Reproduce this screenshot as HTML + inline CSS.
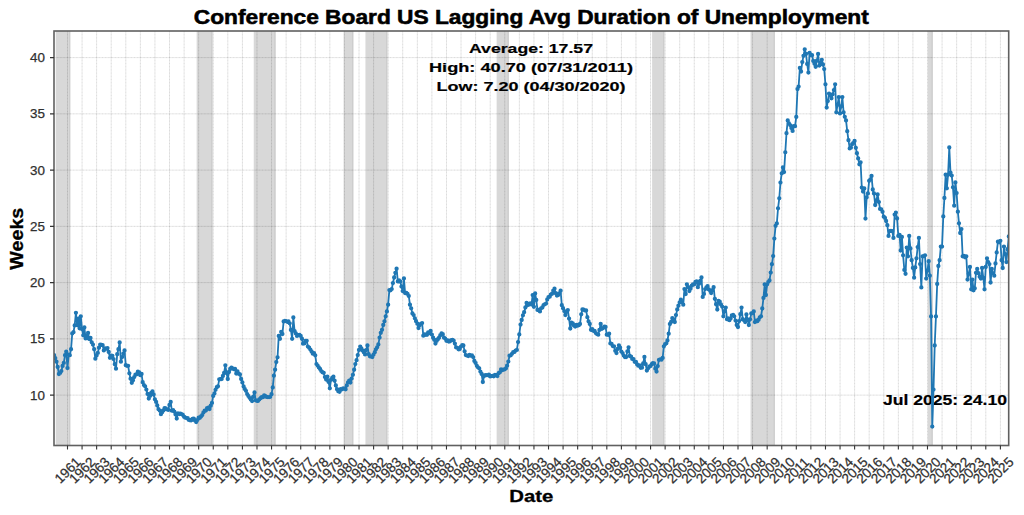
<!DOCTYPE html><html><head><meta charset="utf-8"><style>html,body{margin:0;padding:0;background:#fff;overflow:hidden}svg{display:block;opacity:0.999}text{font-family:"Liberation Sans",sans-serif}</style></head><body>
<svg width="1024" height="515" viewBox="0 0 1024 515">
<rect width="1024" height="515" fill="#fff"/>
<defs><clipPath id="ax"><rect x="54.0" y="31.0" width="954.7" height="414.5"/></clipPath></defs>
<g clip-path="url(#ax)">
<rect x="55.73" y="31.0" width="14.53" height="414.5" fill="#d8d8d8"/>
<rect x="68.95" y="31.0" width="1.3" height="414.5" fill="#cdcdcd"/>
<rect x="196.64" y="31.0" width="15.77" height="414.5" fill="#d8d8d8"/>
<rect x="211.11" y="31.0" width="1.3" height="414.5" fill="#cdcdcd"/>
<rect x="253.75" y="31.0" width="21.79" height="414.5" fill="#d8d8d8"/>
<rect x="274.24" y="31.0" width="1.3" height="414.5" fill="#cdcdcd"/>
<rect x="343.62" y="31.0" width="9.70" height="414.5" fill="#d8d8d8"/>
<rect x="352.03" y="31.0" width="1.3" height="414.5" fill="#cdcdcd"/>
<rect x="365.45" y="31.0" width="21.87" height="414.5" fill="#d8d8d8"/>
<rect x="386.03" y="31.0" width="1.3" height="414.5" fill="#cdcdcd"/>
<rect x="496.63" y="31.0" width="12.13" height="414.5" fill="#d8d8d8"/>
<rect x="507.47" y="31.0" width="1.3" height="414.5" fill="#cdcdcd"/>
<rect x="652.12" y="31.0" width="12.17" height="414.5" fill="#d8d8d8"/>
<rect x="662.99" y="31.0" width="1.3" height="414.5" fill="#cdcdcd"/>
<rect x="750.53" y="31.0" width="24.27" height="414.5" fill="#d8d8d8"/>
<rect x="773.50" y="31.0" width="1.3" height="414.5" fill="#cdcdcd"/>
<rect x="927.92" y="31.0" width="4.79" height="414.5" fill="#d8d8d8"/>
<rect x="931.42" y="31.0" width="1.3" height="414.5" fill="#cdcdcd"/>
<path d="M67.50 31.0V445.5M82.07 31.0V445.5M96.63 31.0V445.5M111.20 31.0V445.5M125.81 31.0V445.5M140.37 31.0V445.5M154.94 31.0V445.5M169.51 31.0V445.5M184.11 31.0V445.5M198.68 31.0V445.5M213.25 31.0V445.5M227.81 31.0V445.5M242.42 31.0V445.5M256.99 31.0V445.5M271.55 31.0V445.5M286.12 31.0V445.5M300.73 31.0V445.5M315.29 31.0V445.5M329.86 31.0V445.5M344.42 31.0V445.5M359.03 31.0V445.5M373.60 31.0V445.5M388.16 31.0V445.5M402.73 31.0V445.5M417.34 31.0V445.5M431.90 31.0V445.5M446.47 31.0V445.5M461.04 31.0V445.5M475.64 31.0V445.5M490.21 31.0V445.5M504.78 31.0V445.5M519.34 31.0V445.5M533.95 31.0V445.5M548.52 31.0V445.5M563.08 31.0V445.5M577.65 31.0V445.5M592.26 31.0V445.5M606.82 31.0V445.5M621.39 31.0V445.5M635.96 31.0V445.5M650.56 31.0V445.5M665.13 31.0V445.5M679.70 31.0V445.5M694.26 31.0V445.5M708.87 31.0V445.5M723.44 31.0V445.5M738.00 31.0V445.5M752.57 31.0V445.5M767.17 31.0V445.5M781.74 31.0V445.5M796.31 31.0V445.5M810.87 31.0V445.5M825.48 31.0V445.5M840.05 31.0V445.5M854.61 31.0V445.5M869.18 31.0V445.5M883.79 31.0V445.5M898.35 31.0V445.5M912.92 31.0V445.5M927.49 31.0V445.5M942.09 31.0V445.5M956.66 31.0V445.5M971.23 31.0V445.5M985.79 31.0V445.5M1000.40 31.0V445.5M54.0 395.10H1008.7M54.0 338.85H1008.7M54.0 282.60H1008.7M54.0 226.35H1008.7M54.0 170.10H1008.7M54.0 113.85H1008.7M54.0 57.60H1008.7" stroke="#000" stroke-opacity="0.085" stroke-width="1" fill="none"/>
<path d="M67.50 31.0V445.5M82.07 31.0V445.5M96.63 31.0V445.5M111.20 31.0V445.5M125.81 31.0V445.5M140.37 31.0V445.5M154.94 31.0V445.5M169.51 31.0V445.5M184.11 31.0V445.5M198.68 31.0V445.5M213.25 31.0V445.5M227.81 31.0V445.5M242.42 31.0V445.5M256.99 31.0V445.5M271.55 31.0V445.5M286.12 31.0V445.5M300.73 31.0V445.5M315.29 31.0V445.5M329.86 31.0V445.5M344.42 31.0V445.5M359.03 31.0V445.5M373.60 31.0V445.5M388.16 31.0V445.5M402.73 31.0V445.5M417.34 31.0V445.5M431.90 31.0V445.5M446.47 31.0V445.5M461.04 31.0V445.5M475.64 31.0V445.5M490.21 31.0V445.5M504.78 31.0V445.5M519.34 31.0V445.5M533.95 31.0V445.5M548.52 31.0V445.5M563.08 31.0V445.5M577.65 31.0V445.5M592.26 31.0V445.5M606.82 31.0V445.5M621.39 31.0V445.5M635.96 31.0V445.5M650.56 31.0V445.5M665.13 31.0V445.5M679.70 31.0V445.5M694.26 31.0V445.5M708.87 31.0V445.5M723.44 31.0V445.5M738.00 31.0V445.5M752.57 31.0V445.5M767.17 31.0V445.5M781.74 31.0V445.5M796.31 31.0V445.5M810.87 31.0V445.5M825.48 31.0V445.5M840.05 31.0V445.5M854.61 31.0V445.5M869.18 31.0V445.5M883.79 31.0V445.5M898.35 31.0V445.5M912.92 31.0V445.5M927.49 31.0V445.5M942.09 31.0V445.5M956.66 31.0V445.5M971.23 31.0V445.5M985.79 31.0V445.5M1000.40 31.0V445.5M54.0 395.10H1008.7M54.0 338.85H1008.7M54.0 282.60H1008.7M54.0 226.35H1008.7M54.0 170.10H1008.7M54.0 113.85H1008.7M54.0 57.60H1008.7" stroke="#000" stroke-opacity="0.1" stroke-width="0.7" stroke-dasharray="1,2.2" fill="none"/>
</g>
<text x="531.30" y="23.80" font-size="20.00" font-weight="bold" text-anchor="middle" fill="#000" textLength="675.0" lengthAdjust="spacingAndGlyphs" stroke="#000" stroke-width="0.55">Conference Board US Lagging Avg Duration of Unemployment</text>
<text x="531.00" y="53.30" font-size="13.70" font-weight="bold" text-anchor="middle" fill="#000" textLength="124.0" lengthAdjust="spacingAndGlyphs" stroke="#000" stroke-width="0.20">Average: 17.57</text>
<text x="531.00" y="72.00" font-size="13.70" font-weight="bold" text-anchor="middle" fill="#000" textLength="204.0" lengthAdjust="spacingAndGlyphs" stroke="#000" stroke-width="0.20">High: 40.70 (07/31/2011)</text>
<text x="531.00" y="91.00" font-size="13.70" font-weight="bold" text-anchor="middle" fill="#000" textLength="189.0" lengthAdjust="spacingAndGlyphs" stroke="#000" stroke-width="0.20">Low: 7.20 (04/30/2020)</text>
<text x="1007.00" y="404.90" font-size="14.20" font-weight="bold" text-anchor="end" fill="#000" textLength="124.0" lengthAdjust="spacingAndGlyphs" stroke="#000" stroke-width="0.20">Jul 2025: 24.10</text>
<g clip-path="url(#ax)">
<path d="M54.09 355.20 L55.25 358.03 L56.49 361.70 L57.68 367.01 L58.92 374.00 L60.12 372.91 L61.35 371.10 L62.59 365.97 L63.79 362.90 L65.03 355.20 L66.22 351.70 L67.46 368.10 L68.70 354.60 L69.81 355.20 L71.05 349.20 L72.25 333.40 L73.49 332.20 L74.68 325.40 L75.92 312.80 L77.16 325.20 L78.36 318.60 L79.59 328.30 L80.79 316.30 L82.03 329.10 L83.26 335.30 L84.38 327.50 L85.62 338.40 L86.82 335.79 L88.05 333.00 L89.25 339.00 L90.49 338.00 L91.72 342.30 L92.92 344.60 L94.16 349.20 L95.36 358.70 L96.59 355.48 L97.83 352.90 L98.95 347.69 L100.19 344.60 L101.38 344.92 L102.62 345.20 L103.82 350.40 L105.05 348.52 L106.29 348.71 L107.49 348.10 L108.73 352.00 L109.92 357.80 L111.16 355.77 L112.40 355.80 L113.55 359.12 L114.79 364.22 L115.99 368.70 L117.23 354.20 L118.42 349.13 L119.66 342.50 L120.90 361.70 L122.09 357.06 L123.33 353.57 L124.53 350.50 L125.77 365.20 L127.00 365.81 L128.12 365.80 L129.36 373.32 L130.56 378.70 L131.79 382.80 L132.99 380.25 L134.23 377.09 L135.46 374.60 L136.66 374.24 L137.90 371.60 L139.10 372.31 L140.33 375.20 L141.57 374.00 L142.69 382.20 L143.92 385.11 L145.12 386.30 L146.36 389.60 L147.56 393.90 L148.79 398.60 L150.03 395.90 L151.23 392.85 L152.47 391.50 L153.66 394.48 L154.90 399.30 L156.14 401.94 L157.25 405.50 L158.49 409.16 L159.69 410.53 L160.93 414.20 L162.12 412.36 L163.36 410.47 L164.60 408.10 L165.79 408.39 L167.03 409.41 L168.23 409.90 L169.47 404.90 L170.70 402.00 L171.86 410.70 L173.10 410.09 L174.30 411.60 L175.53 414.39 L176.73 418.60 L177.97 413.40 L179.20 414.10 L180.40 413.76 L181.64 414.20 L182.84 414.92 L184.07 416.74 L185.31 417.70 L186.43 418.11 L187.66 418.26 L188.86 419.97 L190.10 420.26 L191.30 420.30 L192.53 418.84 L193.77 418.60 L194.97 420.53 L196.20 422.10 L197.40 419.96 L198.64 417.70 L199.88 417.73 L200.99 416.52 L202.23 415.10 L203.43 412.39 L204.67 410.70 L205.86 410.55 L207.10 408.10 L208.34 407.63 L209.53 409.00 L210.77 405.75 L211.97 402.90 L213.21 395.90 L214.44 393.47 L215.56 389.80 L216.80 387.21 L217.99 386.30 L219.23 379.30 L220.43 379.12 L221.67 379.00 L222.90 376.00 L224.10 373.00 L225.34 365.30 L226.54 373.00 L227.77 379.00 L229.01 372.00 L230.17 369.00 L231.40 367.64 L232.60 368.50 L233.84 369.15 L235.04 369.00 L236.27 373.50 L237.51 371.50 L238.71 373.63 L239.94 374.50 L241.14 379.00 L242.38 382.48 L243.62 386.50 L244.73 388.90 L245.97 390.79 L247.17 394.04 L248.41 395.90 L249.60 397.86 L250.84 399.56 L252.08 401.10 L253.27 396.64 L254.51 392.40 L255.71 400.30 L256.95 400.82 L258.18 400.77 L259.30 399.40 L260.54 398.19 L261.73 397.10 L262.97 397.16 L264.17 395.38 L265.41 396.10 L266.64 396.92 L267.84 397.12 L269.08 397.10 L270.27 396.83 L271.51 394.20 L272.75 387.40 L273.87 375.70 L275.10 369.67 L276.30 362.10 L277.54 357.30 L278.74 335.90 L279.97 338.80 L281.21 332.00 L282.41 334.00 L283.64 321.40 L284.84 320.88 L286.08 321.13 L287.32 321.80 L288.47 321.40 L289.71 323.30 L290.91 329.90 L292.14 338.80 L293.34 317.50 L294.58 331.10 L295.82 333.41 L297.01 335.90 L298.25 335.10 L299.45 334.98 L300.69 335.90 L301.92 338.74 L303.04 343.70 L304.28 343.38 L305.47 340.88 L306.71 340.80 L307.91 346.60 L309.15 347.63 L310.38 349.60 L311.58 351.50 L312.82 353.66 L314.01 353.03 L315.25 355.30 L316.49 364.10 L317.61 365.58 L318.84 367.42 L320.04 368.90 L321.28 371.12 L322.48 372.27 L323.71 372.80 L324.95 377.07 L326.15 379.60 L327.38 376.70 L328.58 381.97 L329.82 388.30 L331.06 379.60 L332.17 377.95 L333.41 376.70 L334.61 380.71 L335.84 385.40 L337.04 389.27 L338.28 391.30 L339.52 391.73 L340.71 389.13 L341.95 389.30 L343.15 388.52 L344.38 388.66 L345.62 389.30 L346.78 385.40 L348.02 382.36 L349.21 380.60 L350.45 382.50 L351.65 378.61 L352.89 374.80 L354.12 369.66 L355.32 364.10 L356.56 360.20 L357.75 355.10 L358.99 349.94 L360.23 346.60 L361.35 348.36 L362.58 350.50 L363.78 352.14 L365.02 354.40 L366.21 350.06 L367.45 345.40 L368.69 354.20 L369.89 356.25 L371.12 356.59 L372.32 357.10 L373.56 354.54 L374.80 352.18 L375.91 349.30 L377.15 347.32 L378.35 344.50 L379.58 337.58 L380.78 332.80 L382.02 329.86 L383.26 325.00 L384.45 321.32 L385.69 316.30 L386.89 311.40 L388.12 304.70 L389.36 290.10 L390.48 290.31 L391.72 289.10 L392.91 283.04 L394.15 277.50 L395.35 272.86 L396.59 268.70 L397.82 281.40 L399.02 280.45 L400.26 281.40 L401.45 286.57 L402.69 291.10 L403.93 278.40 L405.09 293.00 L406.32 292.92 L407.52 293.89 L408.76 295.90 L409.95 304.70 L411.19 308.35 L412.43 313.40 L413.63 315.04 L414.86 318.30 L416.06 321.15 L417.30 323.69 L418.53 328.00 L419.65 325.17 L420.89 323.90 L422.09 323.10 L423.32 335.70 L424.52 334.44 L425.76 334.77 L427.00 334.80 L428.19 332.36 L429.43 333.10 L430.63 330.90 L431.86 334.57 L433.10 337.70 L434.22 339.76 L435.46 343.50 L436.65 340.97 L437.89 339.27 L439.09 337.70 L440.32 335.22 L441.56 333.40 L442.76 334.23 L444.00 337.70 L445.19 338.60 L446.43 340.78 L447.67 340.52 L448.79 341.60 L450.02 341.31 L451.22 340.11 L452.46 339.90 L453.65 340.60 L454.89 343.62 L456.13 347.40 L457.33 347.79 L458.56 349.30 L459.76 349.11 L461.00 346.54 L462.23 345.23 L463.39 345.40 L464.63 351.33 L465.83 355.10 L467.06 355.62 L468.26 356.00 L469.50 354.95 L470.74 355.70 L471.93 355.40 L473.17 357.06 L474.37 361.00 L475.60 362.89 L476.84 365.80 L477.96 367.35 L479.20 368.30 L480.39 371.62 L481.63 374.00 L482.83 382.00 L484.06 376.10 L485.30 375.19 L486.50 375.11 L487.74 375.10 L488.93 374.63 L490.17 376.42 L491.41 376.10 L492.53 375.93 L493.76 376.27 L494.96 374.94 L496.20 375.10 L497.39 376.10 L498.63 373.17 L499.87 372.31 L501.07 369.30 L502.30 370.21 L503.50 369.65 L504.74 369.28 L505.97 368.30 L507.09 365.71 L508.33 361.60 L509.53 355.70 L510.76 355.33 L511.96 353.80 L513.20 352.17 L514.43 351.89 L515.63 350.53 L516.87 349.90 L518.07 342.10 L519.30 334.40 L520.54 324.60 L521.70 320.00 L522.94 315.30 L524.13 312.20 L525.37 307.50 L526.57 302.90 L527.80 305.00 L529.04 304.60 L530.24 303.50 L531.48 304.40 L532.67 295.10 L533.91 306.80 L535.15 293.50 L536.26 300.00 L537.50 309.90 L538.70 310.00 L539.94 311.40 L541.13 308.32 L542.37 307.50 L543.61 305.07 L544.81 304.37 L546.04 303.60 L547.24 299.40 L548.48 297.22 L549.71 296.66 L550.83 294.60 L552.07 293.73 L553.27 290.54 L554.50 288.70 L555.70 293.15 L556.94 295.50 L558.17 295.07 L559.37 293.39 L560.61 290.70 L561.81 305.20 L563.04 308.14 L564.28 311.06 L565.40 315.00 L566.64 311.89 L567.83 310.10 L569.07 318.57 L570.27 328.50 L571.50 322.70 L572.74 323.29 L573.94 325.60 L575.18 326.60 L576.37 325.00 L577.61 325.63 L578.85 325.15 L580.00 324.00 L581.24 314.30 L582.44 309.40 L583.68 309.68 L584.87 310.43 L586.11 310.40 L587.35 317.20 L588.54 321.32 L589.78 324.00 L590.98 329.80 L592.22 329.14 L593.45 330.85 L594.57 330.80 L595.81 333.08 L597.01 334.08 L598.24 334.70 L599.44 329.95 L600.68 324.00 L601.91 328.80 L603.11 328.11 L604.35 326.76 L605.55 326.90 L606.78 334.70 L608.02 334.89 L609.14 333.70 L610.37 343.40 L611.57 343.96 L612.81 346.06 L614.01 346.30 L615.24 350.83 L616.48 353.10 L617.68 348.95 L618.92 345.30 L620.11 347.66 L621.35 351.57 L622.59 353.10 L623.70 355.59 L624.94 357.00 L626.14 357.00 L627.38 351.36 L628.57 347.30 L629.81 356.00 L631.05 356.55 L632.24 358.90 L633.48 359.03 L634.68 361.80 L635.92 361.80 L637.15 364.49 L638.31 365.70 L639.55 365.52 L640.75 367.82 L641.98 367.70 L643.18 363.50 L644.42 357.00 L645.65 364.18 L646.85 370.60 L648.09 368.29 L649.29 366.70 L650.52 365.99 L651.76 364.16 L652.88 363.06 L654.11 363.40 L655.31 368.63 L656.55 371.60 L657.75 366.11 L658.98 359.90 L660.22 359.33 L661.42 359.67 L662.65 358.00 L663.85 346.30 L665.09 344.21 L666.33 343.33 L667.44 340.50 L668.68 333.70 L669.88 324.00 L671.12 321.88 L672.31 318.20 L673.55 319.41 L674.79 322.00 L675.98 315.10 L677.22 309.40 L678.42 305.67 L679.66 302.31 L680.89 299.70 L682.01 302.41 L683.25 304.70 L684.44 289.10 L685.68 294.00 L686.88 284.30 L688.12 287.12 L689.35 291.10 L690.55 288.64 L691.79 285.68 L692.99 284.30 L694.22 284.32 L695.46 282.02 L696.62 281.40 L697.85 287.20 L699.05 283.87 L700.29 280.93 L701.49 277.50 L702.72 296.90 L703.96 293.97 L705.16 289.10 L706.39 287.46 L707.59 286.20 L708.83 289.47 L710.07 290.74 L711.18 293.00 L712.42 290.18 L713.62 287.20 L714.86 298.80 L716.05 304.21 L717.29 309.50 L718.53 300.80 L719.72 301.58 L720.96 304.52 L722.16 306.60 L723.40 316.30 L724.63 311.19 L725.75 307.60 L726.99 319.20 L728.18 318.51 L729.42 320.20 L730.62 318.47 L731.86 315.30 L733.09 315.01 L734.29 316.30 L735.53 320.59 L736.72 325.00 L737.96 327.00 L739.20 321.07 L740.32 314.20 L741.55 307.60 L742.75 319.20 L743.99 320.23 L745.19 322.10 L746.42 314.40 L747.66 319.74 L748.86 325.00 L750.09 319.33 L751.29 313.40 L752.53 313.13 L753.77 311.50 L754.92 322.10 L756.16 320.70 L757.36 321.20 L758.59 319.71 L759.79 317.33 L761.03 316.30 L762.27 308.50 L763.46 297.90 L764.70 284.30 L765.90 295.00 L767.14 284.30 L768.37 281.81 L769.49 280.40 L770.73 272.60 L771.92 264.20 L773.16 256.10 L774.36 238.60 L775.60 225.80 L776.83 223.40 L778.03 208.30 L779.27 198.30 L780.46 182.60 L781.70 173.30 L782.94 167.50 L784.06 172.10 L785.29 152.30 L786.49 133.20 L787.73 120.40 L788.93 123.40 L790.16 125.10 L791.40 128.02 L792.60 130.90 L793.83 126.20 L795.03 126.20 L796.27 116.90 L797.51 89.00 L798.62 86.60 L799.86 68.00 L801.06 71.50 L802.29 62.10 L803.49 55.85 L804.73 49.30 L805.97 54.00 L807.16 63.92 L808.40 72.60 L809.60 52.80 L810.83 54.99 L812.07 55.20 L813.23 61.00 L814.47 63.76 L815.66 66.80 L816.90 60.67 L818.10 54.00 L819.34 65.60 L820.57 62.71 L821.77 59.80 L823.01 64.48 L824.20 69.10 L825.44 84.30 L826.68 107.60 L827.80 101.06 L829.03 93.60 L830.23 95.84 L831.47 98.30 L832.66 94.28 L833.90 90.10 L835.14 84.30 L836.34 112.30 L837.57 104.65 L838.77 97.10 L840.01 113.40 L841.25 106.31 L842.36 97.10 L843.60 112.30 L844.80 116.83 L846.03 120.40 L847.23 131.20 L848.47 140.20 L849.71 148.40 L850.90 147.63 L852.14 144.16 L853.34 142.90 L854.57 141.00 L855.81 147.80 L856.93 153.24 L858.17 158.40 L859.36 164.30 L860.60 162.30 L861.80 187.60 L863.04 191.50 L864.27 188.50 L865.47 218.60 L866.71 197.30 L867.90 193.40 L869.14 180.80 L870.38 179.41 L871.54 175.90 L872.77 189.50 L873.97 193.40 L875.21 205.00 L876.40 200.52 L877.64 194.40 L878.88 202.10 L880.08 208.90 L881.31 209.48 L882.51 211.80 L883.75 216.70 L884.98 217.94 L886.10 221.00 L887.34 225.20 L888.54 235.90 L889.77 231.10 L890.97 230.96 L892.21 231.10 L893.45 237.90 L894.64 214.60 L895.88 212.60 L897.08 218.40 L898.31 235.90 L899.55 235.00 L900.67 250.50 L901.91 236.90 L903.10 255.30 L904.34 269.90 L905.54 273.80 L906.77 247.60 L908.01 256.30 L909.21 235.90 L910.45 248.50 L911.64 260.20 L912.88 267.92 L914.12 277.70 L915.24 267.38 L916.47 258.30 L917.67 247.08 L918.91 237.90 L920.10 264.10 L921.34 287.40 L922.58 256.30 L923.78 256.21 L925.01 255.30 L926.21 278.60 L927.45 270.58 L928.68 261.20 L929.84 275.70 L931.08 316.40 L932.28 426.60 L933.51 389.60 L934.71 345.50 L935.95 316.40 L937.19 284.00 L938.38 266.00 L939.62 260.20 L940.82 246.60 L942.05 246.60 L943.29 216.40 L944.41 198.00 L945.65 174.70 L946.84 188.30 L948.08 174.70 L949.28 147.50 L950.51 172.70 L951.75 175.60 L952.95 187.30 L954.19 205.70 L955.38 182.40 L956.62 193.10 L957.86 211.70 L958.98 223.30 L960.21 233.00 L961.41 229.10 L962.65 256.30 L963.84 255.97 L965.08 257.30 L966.32 256.30 L967.52 279.60 L968.75 273.82 L969.95 267.00 L971.19 289.30 L972.42 279.60 L973.54 290.30 L974.78 288.30 L975.98 272.80 L977.21 268.90 L978.41 273.18 L979.65 276.70 L980.88 278.60 L982.08 268.00 L983.32 277.79 L984.52 289.30 L985.75 267.00 L986.99 258.30 L988.15 262.12 L989.39 264.10 L990.58 282.50 L991.82 268.90 L993.02 273.42 L994.25 275.70 L995.49 263.38 L996.69 252.40 L997.93 241.70 L999.12 242.34 L1000.36 240.80 L1001.60 260.20 L1002.71 268.00 L1003.95 246.60 L1005.15 254.11 L1006.39 262.10 L1007.58 249.27 L1008.82 236.50" stroke="#1f77b4" stroke-width="1.8" fill="none" stroke-linejoin="round"/>
<path d="M54.09 355.20h0M55.25 358.03h0M56.49 361.70h0M57.68 367.01h0M58.92 374.00h0M60.12 372.91h0M61.35 371.10h0M62.59 365.97h0M63.79 362.90h0M65.03 355.20h0M66.22 351.70h0M67.46 368.10h0M68.70 354.60h0M69.81 355.20h0M71.05 349.20h0M72.25 333.40h0M73.49 332.20h0M74.68 325.40h0M75.92 312.80h0M77.16 325.20h0M78.36 318.60h0M79.59 328.30h0M80.79 316.30h0M82.03 329.10h0M83.26 335.30h0M84.38 327.50h0M85.62 338.40h0M86.82 335.79h0M88.05 333.00h0M89.25 339.00h0M90.49 338.00h0M91.72 342.30h0M92.92 344.60h0M94.16 349.20h0M95.36 358.70h0M96.59 355.48h0M97.83 352.90h0M98.95 347.69h0M100.19 344.60h0M101.38 344.92h0M102.62 345.20h0M103.82 350.40h0M105.05 348.52h0M106.29 348.71h0M107.49 348.10h0M108.73 352.00h0M109.92 357.80h0M111.16 355.77h0M112.40 355.80h0M113.55 359.12h0M114.79 364.22h0M115.99 368.70h0M117.23 354.20h0M118.42 349.13h0M119.66 342.50h0M120.90 361.70h0M122.09 357.06h0M123.33 353.57h0M124.53 350.50h0M125.77 365.20h0M127.00 365.81h0M128.12 365.80h0M129.36 373.32h0M130.56 378.70h0M131.79 382.80h0M132.99 380.25h0M134.23 377.09h0M135.46 374.60h0M136.66 374.24h0M137.90 371.60h0M139.10 372.31h0M140.33 375.20h0M141.57 374.00h0M142.69 382.20h0M143.92 385.11h0M145.12 386.30h0M146.36 389.60h0M147.56 393.90h0M148.79 398.60h0M150.03 395.90h0M151.23 392.85h0M152.47 391.50h0M153.66 394.48h0M154.90 399.30h0M156.14 401.94h0M157.25 405.50h0M158.49 409.16h0M159.69 410.53h0M160.93 414.20h0M162.12 412.36h0M163.36 410.47h0M164.60 408.10h0M165.79 408.39h0M167.03 409.41h0M168.23 409.90h0M169.47 404.90h0M170.70 402.00h0M171.86 410.70h0M173.10 410.09h0M174.30 411.60h0M175.53 414.39h0M176.73 418.60h0M177.97 413.40h0M179.20 414.10h0M180.40 413.76h0M181.64 414.20h0M182.84 414.92h0M184.07 416.74h0M185.31 417.70h0M186.43 418.11h0M187.66 418.26h0M188.86 419.97h0M190.10 420.26h0M191.30 420.30h0M192.53 418.84h0M193.77 418.60h0M194.97 420.53h0M196.20 422.10h0M197.40 419.96h0M198.64 417.70h0M199.88 417.73h0M200.99 416.52h0M202.23 415.10h0M203.43 412.39h0M204.67 410.70h0M205.86 410.55h0M207.10 408.10h0M208.34 407.63h0M209.53 409.00h0M210.77 405.75h0M211.97 402.90h0M213.21 395.90h0M214.44 393.47h0M215.56 389.80h0M216.80 387.21h0M217.99 386.30h0M219.23 379.30h0M220.43 379.12h0M221.67 379.00h0M222.90 376.00h0M224.10 373.00h0M225.34 365.30h0M226.54 373.00h0M227.77 379.00h0M229.01 372.00h0M230.17 369.00h0M231.40 367.64h0M232.60 368.50h0M233.84 369.15h0M235.04 369.00h0M236.27 373.50h0M237.51 371.50h0M238.71 373.63h0M239.94 374.50h0M241.14 379.00h0M242.38 382.48h0M243.62 386.50h0M244.73 388.90h0M245.97 390.79h0M247.17 394.04h0M248.41 395.90h0M249.60 397.86h0M250.84 399.56h0M252.08 401.10h0M253.27 396.64h0M254.51 392.40h0M255.71 400.30h0M256.95 400.82h0M258.18 400.77h0M259.30 399.40h0M260.54 398.19h0M261.73 397.10h0M262.97 397.16h0M264.17 395.38h0M265.41 396.10h0M266.64 396.92h0M267.84 397.12h0M269.08 397.10h0M270.27 396.83h0M271.51 394.20h0M272.75 387.40h0M273.87 375.70h0M275.10 369.67h0M276.30 362.10h0M277.54 357.30h0M278.74 335.90h0M279.97 338.80h0M281.21 332.00h0M282.41 334.00h0M283.64 321.40h0M284.84 320.88h0M286.08 321.13h0M287.32 321.80h0M288.47 321.40h0M289.71 323.30h0M290.91 329.90h0M292.14 338.80h0M293.34 317.50h0M294.58 331.10h0M295.82 333.41h0M297.01 335.90h0M298.25 335.10h0M299.45 334.98h0M300.69 335.90h0M301.92 338.74h0M303.04 343.70h0M304.28 343.38h0M305.47 340.88h0M306.71 340.80h0M307.91 346.60h0M309.15 347.63h0M310.38 349.60h0M311.58 351.50h0M312.82 353.66h0M314.01 353.03h0M315.25 355.30h0M316.49 364.10h0M317.61 365.58h0M318.84 367.42h0M320.04 368.90h0M321.28 371.12h0M322.48 372.27h0M323.71 372.80h0M324.95 377.07h0M326.15 379.60h0M327.38 376.70h0M328.58 381.97h0M329.82 388.30h0M331.06 379.60h0M332.17 377.95h0M333.41 376.70h0M334.61 380.71h0M335.84 385.40h0M337.04 389.27h0M338.28 391.30h0M339.52 391.73h0M340.71 389.13h0M341.95 389.30h0M343.15 388.52h0M344.38 388.66h0M345.62 389.30h0M346.78 385.40h0M348.02 382.36h0M349.21 380.60h0M350.45 382.50h0M351.65 378.61h0M352.89 374.80h0M354.12 369.66h0M355.32 364.10h0M356.56 360.20h0M357.75 355.10h0M358.99 349.94h0M360.23 346.60h0M361.35 348.36h0M362.58 350.50h0M363.78 352.14h0M365.02 354.40h0M366.21 350.06h0M367.45 345.40h0M368.69 354.20h0M369.89 356.25h0M371.12 356.59h0M372.32 357.10h0M373.56 354.54h0M374.80 352.18h0M375.91 349.30h0M377.15 347.32h0M378.35 344.50h0M379.58 337.58h0M380.78 332.80h0M382.02 329.86h0M383.26 325.00h0M384.45 321.32h0M385.69 316.30h0M386.89 311.40h0M388.12 304.70h0M389.36 290.10h0M390.48 290.31h0M391.72 289.10h0M392.91 283.04h0M394.15 277.50h0M395.35 272.86h0M396.59 268.70h0M397.82 281.40h0M399.02 280.45h0M400.26 281.40h0M401.45 286.57h0M402.69 291.10h0M403.93 278.40h0M405.09 293.00h0M406.32 292.92h0M407.52 293.89h0M408.76 295.90h0M409.95 304.70h0M411.19 308.35h0M412.43 313.40h0M413.63 315.04h0M414.86 318.30h0M416.06 321.15h0M417.30 323.69h0M418.53 328.00h0M419.65 325.17h0M420.89 323.90h0M422.09 323.10h0M423.32 335.70h0M424.52 334.44h0M425.76 334.77h0M427.00 334.80h0M428.19 332.36h0M429.43 333.10h0M430.63 330.90h0M431.86 334.57h0M433.10 337.70h0M434.22 339.76h0M435.46 343.50h0M436.65 340.97h0M437.89 339.27h0M439.09 337.70h0M440.32 335.22h0M441.56 333.40h0M442.76 334.23h0M444.00 337.70h0M445.19 338.60h0M446.43 340.78h0M447.67 340.52h0M448.79 341.60h0M450.02 341.31h0M451.22 340.11h0M452.46 339.90h0M453.65 340.60h0M454.89 343.62h0M456.13 347.40h0M457.33 347.79h0M458.56 349.30h0M459.76 349.11h0M461.00 346.54h0M462.23 345.23h0M463.39 345.40h0M464.63 351.33h0M465.83 355.10h0M467.06 355.62h0M468.26 356.00h0M469.50 354.95h0M470.74 355.70h0M471.93 355.40h0M473.17 357.06h0M474.37 361.00h0M475.60 362.89h0M476.84 365.80h0M477.96 367.35h0M479.20 368.30h0M480.39 371.62h0M481.63 374.00h0M482.83 382.00h0M484.06 376.10h0M485.30 375.19h0M486.50 375.11h0M487.74 375.10h0M488.93 374.63h0M490.17 376.42h0M491.41 376.10h0M492.53 375.93h0M493.76 376.27h0M494.96 374.94h0M496.20 375.10h0M497.39 376.10h0M498.63 373.17h0M499.87 372.31h0M501.07 369.30h0M502.30 370.21h0M503.50 369.65h0M504.74 369.28h0M505.97 368.30h0M507.09 365.71h0M508.33 361.60h0M509.53 355.70h0M510.76 355.33h0M511.96 353.80h0M513.20 352.17h0M514.43 351.89h0M515.63 350.53h0M516.87 349.90h0M518.07 342.10h0M519.30 334.40h0M520.54 324.60h0M521.70 320.00h0M522.94 315.30h0M524.13 312.20h0M525.37 307.50h0M526.57 302.90h0M527.80 305.00h0M529.04 304.60h0M530.24 303.50h0M531.48 304.40h0M532.67 295.10h0M533.91 306.80h0M535.15 293.50h0M536.26 300.00h0M537.50 309.90h0M538.70 310.00h0M539.94 311.40h0M541.13 308.32h0M542.37 307.50h0M543.61 305.07h0M544.81 304.37h0M546.04 303.60h0M547.24 299.40h0M548.48 297.22h0M549.71 296.66h0M550.83 294.60h0M552.07 293.73h0M553.27 290.54h0M554.50 288.70h0M555.70 293.15h0M556.94 295.50h0M558.17 295.07h0M559.37 293.39h0M560.61 290.70h0M561.81 305.20h0M563.04 308.14h0M564.28 311.06h0M565.40 315.00h0M566.64 311.89h0M567.83 310.10h0M569.07 318.57h0M570.27 328.50h0M571.50 322.70h0M572.74 323.29h0M573.94 325.60h0M575.18 326.60h0M576.37 325.00h0M577.61 325.63h0M578.85 325.15h0M580.00 324.00h0M581.24 314.30h0M582.44 309.40h0M583.68 309.68h0M584.87 310.43h0M586.11 310.40h0M587.35 317.20h0M588.54 321.32h0M589.78 324.00h0M590.98 329.80h0M592.22 329.14h0M593.45 330.85h0M594.57 330.80h0M595.81 333.08h0M597.01 334.08h0M598.24 334.70h0M599.44 329.95h0M600.68 324.00h0M601.91 328.80h0M603.11 328.11h0M604.35 326.76h0M605.55 326.90h0M606.78 334.70h0M608.02 334.89h0M609.14 333.70h0M610.37 343.40h0M611.57 343.96h0M612.81 346.06h0M614.01 346.30h0M615.24 350.83h0M616.48 353.10h0M617.68 348.95h0M618.92 345.30h0M620.11 347.66h0M621.35 351.57h0M622.59 353.10h0M623.70 355.59h0M624.94 357.00h0M626.14 357.00h0M627.38 351.36h0M628.57 347.30h0M629.81 356.00h0M631.05 356.55h0M632.24 358.90h0M633.48 359.03h0M634.68 361.80h0M635.92 361.80h0M637.15 364.49h0M638.31 365.70h0M639.55 365.52h0M640.75 367.82h0M641.98 367.70h0M643.18 363.50h0M644.42 357.00h0M645.65 364.18h0M646.85 370.60h0M648.09 368.29h0M649.29 366.70h0M650.52 365.99h0M651.76 364.16h0M652.88 363.06h0M654.11 363.40h0M655.31 368.63h0M656.55 371.60h0M657.75 366.11h0M658.98 359.90h0M660.22 359.33h0M661.42 359.67h0M662.65 358.00h0M663.85 346.30h0M665.09 344.21h0M666.33 343.33h0M667.44 340.50h0M668.68 333.70h0M669.88 324.00h0M671.12 321.88h0M672.31 318.20h0M673.55 319.41h0M674.79 322.00h0M675.98 315.10h0M677.22 309.40h0M678.42 305.67h0M679.66 302.31h0M680.89 299.70h0M682.01 302.41h0M683.25 304.70h0M684.44 289.10h0M685.68 294.00h0M686.88 284.30h0M688.12 287.12h0M689.35 291.10h0M690.55 288.64h0M691.79 285.68h0M692.99 284.30h0M694.22 284.32h0M695.46 282.02h0M696.62 281.40h0M697.85 287.20h0M699.05 283.87h0M700.29 280.93h0M701.49 277.50h0M702.72 296.90h0M703.96 293.97h0M705.16 289.10h0M706.39 287.46h0M707.59 286.20h0M708.83 289.47h0M710.07 290.74h0M711.18 293.00h0M712.42 290.18h0M713.62 287.20h0M714.86 298.80h0M716.05 304.21h0M717.29 309.50h0M718.53 300.80h0M719.72 301.58h0M720.96 304.52h0M722.16 306.60h0M723.40 316.30h0M724.63 311.19h0M725.75 307.60h0M726.99 319.20h0M728.18 318.51h0M729.42 320.20h0M730.62 318.47h0M731.86 315.30h0M733.09 315.01h0M734.29 316.30h0M735.53 320.59h0M736.72 325.00h0M737.96 327.00h0M739.20 321.07h0M740.32 314.20h0M741.55 307.60h0M742.75 319.20h0M743.99 320.23h0M745.19 322.10h0M746.42 314.40h0M747.66 319.74h0M748.86 325.00h0M750.09 319.33h0M751.29 313.40h0M752.53 313.13h0M753.77 311.50h0M754.92 322.10h0M756.16 320.70h0M757.36 321.20h0M758.59 319.71h0M759.79 317.33h0M761.03 316.30h0M762.27 308.50h0M763.46 297.90h0M764.70 284.30h0M765.90 295.00h0M767.14 284.30h0M768.37 281.81h0M769.49 280.40h0M770.73 272.60h0M771.92 264.20h0M773.16 256.10h0M774.36 238.60h0M775.60 225.80h0M776.83 223.40h0M778.03 208.30h0M779.27 198.30h0M780.46 182.60h0M781.70 173.30h0M782.94 167.50h0M784.06 172.10h0M785.29 152.30h0M786.49 133.20h0M787.73 120.40h0M788.93 123.40h0M790.16 125.10h0M791.40 128.02h0M792.60 130.90h0M793.83 126.20h0M795.03 126.20h0M796.27 116.90h0M797.51 89.00h0M798.62 86.60h0M799.86 68.00h0M801.06 71.50h0M802.29 62.10h0M803.49 55.85h0M804.73 49.30h0M805.97 54.00h0M807.16 63.92h0M808.40 72.60h0M809.60 52.80h0M810.83 54.99h0M812.07 55.20h0M813.23 61.00h0M814.47 63.76h0M815.66 66.80h0M816.90 60.67h0M818.10 54.00h0M819.34 65.60h0M820.57 62.71h0M821.77 59.80h0M823.01 64.48h0M824.20 69.10h0M825.44 84.30h0M826.68 107.60h0M827.80 101.06h0M829.03 93.60h0M830.23 95.84h0M831.47 98.30h0M832.66 94.28h0M833.90 90.10h0M835.14 84.30h0M836.34 112.30h0M837.57 104.65h0M838.77 97.10h0M840.01 113.40h0M841.25 106.31h0M842.36 97.10h0M843.60 112.30h0M844.80 116.83h0M846.03 120.40h0M847.23 131.20h0M848.47 140.20h0M849.71 148.40h0M850.90 147.63h0M852.14 144.16h0M853.34 142.90h0M854.57 141.00h0M855.81 147.80h0M856.93 153.24h0M858.17 158.40h0M859.36 164.30h0M860.60 162.30h0M861.80 187.60h0M863.04 191.50h0M864.27 188.50h0M865.47 218.60h0M866.71 197.30h0M867.90 193.40h0M869.14 180.80h0M870.38 179.41h0M871.54 175.90h0M872.77 189.50h0M873.97 193.40h0M875.21 205.00h0M876.40 200.52h0M877.64 194.40h0M878.88 202.10h0M880.08 208.90h0M881.31 209.48h0M882.51 211.80h0M883.75 216.70h0M884.98 217.94h0M886.10 221.00h0M887.34 225.20h0M888.54 235.90h0M889.77 231.10h0M890.97 230.96h0M892.21 231.10h0M893.45 237.90h0M894.64 214.60h0M895.88 212.60h0M897.08 218.40h0M898.31 235.90h0M899.55 235.00h0M900.67 250.50h0M901.91 236.90h0M903.10 255.30h0M904.34 269.90h0M905.54 273.80h0M906.77 247.60h0M908.01 256.30h0M909.21 235.90h0M910.45 248.50h0M911.64 260.20h0M912.88 267.92h0M914.12 277.70h0M915.24 267.38h0M916.47 258.30h0M917.67 247.08h0M918.91 237.90h0M920.10 264.10h0M921.34 287.40h0M922.58 256.30h0M923.78 256.21h0M925.01 255.30h0M926.21 278.60h0M927.45 270.58h0M928.68 261.20h0M929.84 275.70h0M931.08 316.40h0M932.28 426.60h0M933.51 389.60h0M934.71 345.50h0M935.95 316.40h0M937.19 284.00h0M938.38 266.00h0M939.62 260.20h0M940.82 246.60h0M942.05 246.60h0M943.29 216.40h0M944.41 198.00h0M945.65 174.70h0M946.84 188.30h0M948.08 174.70h0M949.28 147.50h0M950.51 172.70h0M951.75 175.60h0M952.95 187.30h0M954.19 205.70h0M955.38 182.40h0M956.62 193.10h0M957.86 211.70h0M958.98 223.30h0M960.21 233.00h0M961.41 229.10h0M962.65 256.30h0M963.84 255.97h0M965.08 257.30h0M966.32 256.30h0M967.52 279.60h0M968.75 273.82h0M969.95 267.00h0M971.19 289.30h0M972.42 279.60h0M973.54 290.30h0M974.78 288.30h0M975.98 272.80h0M977.21 268.90h0M978.41 273.18h0M979.65 276.70h0M980.88 278.60h0M982.08 268.00h0M983.32 277.79h0M984.52 289.30h0M985.75 267.00h0M986.99 258.30h0M988.15 262.12h0M989.39 264.10h0M990.58 282.50h0M991.82 268.90h0M993.02 273.42h0M994.25 275.70h0M995.49 263.38h0M996.69 252.40h0M997.93 241.70h0M999.12 242.34h0M1000.36 240.80h0M1001.60 260.20h0M1002.71 268.00h0M1003.95 246.60h0M1005.15 254.11h0M1006.39 262.10h0M1007.58 249.27h0M1008.82 236.50h0" stroke="#1f77b4" stroke-width="4.3" stroke-linecap="round" fill="none"/>
</g>
<rect x="54.0" y="31.0" width="954.7" height="414.5" fill="none" stroke="#606060" stroke-width="1.6"/>
<text x="45.00" y="399.70" font-size="13.40" font-weight="normal" text-anchor="end" fill="#303030" stroke="#303030" stroke-width="0.25">10</text>
<text x="45.00" y="343.45" font-size="13.40" font-weight="normal" text-anchor="end" fill="#303030" stroke="#303030" stroke-width="0.25">15</text>
<text x="45.00" y="287.20" font-size="13.40" font-weight="normal" text-anchor="end" fill="#303030" stroke="#303030" stroke-width="0.25">20</text>
<text x="45.00" y="230.95" font-size="13.40" font-weight="normal" text-anchor="end" fill="#303030" stroke="#303030" stroke-width="0.25">25</text>
<text x="45.00" y="174.70" font-size="13.40" font-weight="normal" text-anchor="end" fill="#303030" stroke="#303030" stroke-width="0.25">30</text>
<text x="45.00" y="118.45" font-size="13.40" font-weight="normal" text-anchor="end" fill="#303030" stroke="#303030" stroke-width="0.25">35</text>
<text x="45.00" y="62.20" font-size="13.40" font-weight="normal" text-anchor="end" fill="#303030" stroke="#303030" stroke-width="0.25">40</text>
<path d="M50.0 395.10H54.0M50.0 338.85H54.0M50.0 282.60H54.0M50.0 226.35H54.0M50.0 170.10H54.0M50.0 113.85H54.0M50.0 57.60H54.0M67.50 445.5V449.5M82.07 445.5V449.5M96.63 445.5V449.5M111.20 445.5V449.5M125.81 445.5V449.5M140.37 445.5V449.5M154.94 445.5V449.5M169.51 445.5V449.5M184.11 445.5V449.5M198.68 445.5V449.5M213.25 445.5V449.5M227.81 445.5V449.5M242.42 445.5V449.5M256.99 445.5V449.5M271.55 445.5V449.5M286.12 445.5V449.5M300.73 445.5V449.5M315.29 445.5V449.5M329.86 445.5V449.5M344.42 445.5V449.5M359.03 445.5V449.5M373.60 445.5V449.5M388.16 445.5V449.5M402.73 445.5V449.5M417.34 445.5V449.5M431.90 445.5V449.5M446.47 445.5V449.5M461.04 445.5V449.5M475.64 445.5V449.5M490.21 445.5V449.5M504.78 445.5V449.5M519.34 445.5V449.5M533.95 445.5V449.5M548.52 445.5V449.5M563.08 445.5V449.5M577.65 445.5V449.5M592.26 445.5V449.5M606.82 445.5V449.5M621.39 445.5V449.5M635.96 445.5V449.5M650.56 445.5V449.5M665.13 445.5V449.5M679.70 445.5V449.5M694.26 445.5V449.5M708.87 445.5V449.5M723.44 445.5V449.5M738.00 445.5V449.5M752.57 445.5V449.5M767.17 445.5V449.5M781.74 445.5V449.5M796.31 445.5V449.5M810.87 445.5V449.5M825.48 445.5V449.5M840.05 445.5V449.5M854.61 445.5V449.5M869.18 445.5V449.5M883.79 445.5V449.5M898.35 445.5V449.5M912.92 445.5V449.5M927.49 445.5V449.5M942.09 445.5V449.5M956.66 445.5V449.5M971.23 445.5V449.5M985.79 445.5V449.5M1000.40 445.5V449.5" stroke="#333" stroke-width="1.1" fill="none"/>
<text x="0" y="0" font-size="13.6" text-anchor="middle" fill="#303030" stroke="#303030" stroke-width="0.25" transform="translate(67.50 470.20) rotate(-45) translate(0 4.8)">1961</text>
<text x="0" y="0" font-size="13.6" text-anchor="middle" fill="#303030" stroke="#303030" stroke-width="0.25" transform="translate(82.07 470.20) rotate(-45) translate(0 4.8)">1962</text>
<text x="0" y="0" font-size="13.6" text-anchor="middle" fill="#303030" stroke="#303030" stroke-width="0.25" transform="translate(96.63 470.20) rotate(-45) translate(0 4.8)">1963</text>
<text x="0" y="0" font-size="13.6" text-anchor="middle" fill="#303030" stroke="#303030" stroke-width="0.25" transform="translate(111.20 470.20) rotate(-45) translate(0 4.8)">1964</text>
<text x="0" y="0" font-size="13.6" text-anchor="middle" fill="#303030" stroke="#303030" stroke-width="0.25" transform="translate(125.81 470.20) rotate(-45) translate(0 4.8)">1965</text>
<text x="0" y="0" font-size="13.6" text-anchor="middle" fill="#303030" stroke="#303030" stroke-width="0.25" transform="translate(140.37 470.20) rotate(-45) translate(0 4.8)">1966</text>
<text x="0" y="0" font-size="13.6" text-anchor="middle" fill="#303030" stroke="#303030" stroke-width="0.25" transform="translate(154.94 470.20) rotate(-45) translate(0 4.8)">1967</text>
<text x="0" y="0" font-size="13.6" text-anchor="middle" fill="#303030" stroke="#303030" stroke-width="0.25" transform="translate(169.51 470.20) rotate(-45) translate(0 4.8)">1968</text>
<text x="0" y="0" font-size="13.6" text-anchor="middle" fill="#303030" stroke="#303030" stroke-width="0.25" transform="translate(184.11 470.20) rotate(-45) translate(0 4.8)">1969</text>
<text x="0" y="0" font-size="13.6" text-anchor="middle" fill="#303030" stroke="#303030" stroke-width="0.25" transform="translate(198.68 470.20) rotate(-45) translate(0 4.8)">1970</text>
<text x="0" y="0" font-size="13.6" text-anchor="middle" fill="#303030" stroke="#303030" stroke-width="0.25" transform="translate(213.25 470.20) rotate(-45) translate(0 4.8)">1971</text>
<text x="0" y="0" font-size="13.6" text-anchor="middle" fill="#303030" stroke="#303030" stroke-width="0.25" transform="translate(227.81 470.20) rotate(-45) translate(0 4.8)">1972</text>
<text x="0" y="0" font-size="13.6" text-anchor="middle" fill="#303030" stroke="#303030" stroke-width="0.25" transform="translate(242.42 470.20) rotate(-45) translate(0 4.8)">1973</text>
<text x="0" y="0" font-size="13.6" text-anchor="middle" fill="#303030" stroke="#303030" stroke-width="0.25" transform="translate(256.99 470.20) rotate(-45) translate(0 4.8)">1974</text>
<text x="0" y="0" font-size="13.6" text-anchor="middle" fill="#303030" stroke="#303030" stroke-width="0.25" transform="translate(271.55 470.20) rotate(-45) translate(0 4.8)">1975</text>
<text x="0" y="0" font-size="13.6" text-anchor="middle" fill="#303030" stroke="#303030" stroke-width="0.25" transform="translate(286.12 470.20) rotate(-45) translate(0 4.8)">1976</text>
<text x="0" y="0" font-size="13.6" text-anchor="middle" fill="#303030" stroke="#303030" stroke-width="0.25" transform="translate(300.73 470.20) rotate(-45) translate(0 4.8)">1977</text>
<text x="0" y="0" font-size="13.6" text-anchor="middle" fill="#303030" stroke="#303030" stroke-width="0.25" transform="translate(315.29 470.20) rotate(-45) translate(0 4.8)">1978</text>
<text x="0" y="0" font-size="13.6" text-anchor="middle" fill="#303030" stroke="#303030" stroke-width="0.25" transform="translate(329.86 470.20) rotate(-45) translate(0 4.8)">1979</text>
<text x="0" y="0" font-size="13.6" text-anchor="middle" fill="#303030" stroke="#303030" stroke-width="0.25" transform="translate(344.42 470.20) rotate(-45) translate(0 4.8)">1980</text>
<text x="0" y="0" font-size="13.6" text-anchor="middle" fill="#303030" stroke="#303030" stroke-width="0.25" transform="translate(359.03 470.20) rotate(-45) translate(0 4.8)">1981</text>
<text x="0" y="0" font-size="13.6" text-anchor="middle" fill="#303030" stroke="#303030" stroke-width="0.25" transform="translate(373.60 470.20) rotate(-45) translate(0 4.8)">1982</text>
<text x="0" y="0" font-size="13.6" text-anchor="middle" fill="#303030" stroke="#303030" stroke-width="0.25" transform="translate(388.16 470.20) rotate(-45) translate(0 4.8)">1983</text>
<text x="0" y="0" font-size="13.6" text-anchor="middle" fill="#303030" stroke="#303030" stroke-width="0.25" transform="translate(402.73 470.20) rotate(-45) translate(0 4.8)">1984</text>
<text x="0" y="0" font-size="13.6" text-anchor="middle" fill="#303030" stroke="#303030" stroke-width="0.25" transform="translate(417.34 470.20) rotate(-45) translate(0 4.8)">1985</text>
<text x="0" y="0" font-size="13.6" text-anchor="middle" fill="#303030" stroke="#303030" stroke-width="0.25" transform="translate(431.90 470.20) rotate(-45) translate(0 4.8)">1986</text>
<text x="0" y="0" font-size="13.6" text-anchor="middle" fill="#303030" stroke="#303030" stroke-width="0.25" transform="translate(446.47 470.20) rotate(-45) translate(0 4.8)">1987</text>
<text x="0" y="0" font-size="13.6" text-anchor="middle" fill="#303030" stroke="#303030" stroke-width="0.25" transform="translate(461.04 470.20) rotate(-45) translate(0 4.8)">1988</text>
<text x="0" y="0" font-size="13.6" text-anchor="middle" fill="#303030" stroke="#303030" stroke-width="0.25" transform="translate(475.64 470.20) rotate(-45) translate(0 4.8)">1989</text>
<text x="0" y="0" font-size="13.6" text-anchor="middle" fill="#303030" stroke="#303030" stroke-width="0.25" transform="translate(490.21 470.20) rotate(-45) translate(0 4.8)">1990</text>
<text x="0" y="0" font-size="13.6" text-anchor="middle" fill="#303030" stroke="#303030" stroke-width="0.25" transform="translate(504.78 470.20) rotate(-45) translate(0 4.8)">1991</text>
<text x="0" y="0" font-size="13.6" text-anchor="middle" fill="#303030" stroke="#303030" stroke-width="0.25" transform="translate(519.34 470.20) rotate(-45) translate(0 4.8)">1992</text>
<text x="0" y="0" font-size="13.6" text-anchor="middle" fill="#303030" stroke="#303030" stroke-width="0.25" transform="translate(533.95 470.20) rotate(-45) translate(0 4.8)">1993</text>
<text x="0" y="0" font-size="13.6" text-anchor="middle" fill="#303030" stroke="#303030" stroke-width="0.25" transform="translate(548.52 470.20) rotate(-45) translate(0 4.8)">1994</text>
<text x="0" y="0" font-size="13.6" text-anchor="middle" fill="#303030" stroke="#303030" stroke-width="0.25" transform="translate(563.08 470.20) rotate(-45) translate(0 4.8)">1995</text>
<text x="0" y="0" font-size="13.6" text-anchor="middle" fill="#303030" stroke="#303030" stroke-width="0.25" transform="translate(577.65 470.20) rotate(-45) translate(0 4.8)">1996</text>
<text x="0" y="0" font-size="13.6" text-anchor="middle" fill="#303030" stroke="#303030" stroke-width="0.25" transform="translate(592.26 470.20) rotate(-45) translate(0 4.8)">1997</text>
<text x="0" y="0" font-size="13.6" text-anchor="middle" fill="#303030" stroke="#303030" stroke-width="0.25" transform="translate(606.82 470.20) rotate(-45) translate(0 4.8)">1998</text>
<text x="0" y="0" font-size="13.6" text-anchor="middle" fill="#303030" stroke="#303030" stroke-width="0.25" transform="translate(621.39 470.20) rotate(-45) translate(0 4.8)">1999</text>
<text x="0" y="0" font-size="13.6" text-anchor="middle" fill="#303030" stroke="#303030" stroke-width="0.25" transform="translate(635.96 470.20) rotate(-45) translate(0 4.8)">2000</text>
<text x="0" y="0" font-size="13.6" text-anchor="middle" fill="#303030" stroke="#303030" stroke-width="0.25" transform="translate(650.56 470.20) rotate(-45) translate(0 4.8)">2001</text>
<text x="0" y="0" font-size="13.6" text-anchor="middle" fill="#303030" stroke="#303030" stroke-width="0.25" transform="translate(665.13 470.20) rotate(-45) translate(0 4.8)">2002</text>
<text x="0" y="0" font-size="13.6" text-anchor="middle" fill="#303030" stroke="#303030" stroke-width="0.25" transform="translate(679.70 470.20) rotate(-45) translate(0 4.8)">2003</text>
<text x="0" y="0" font-size="13.6" text-anchor="middle" fill="#303030" stroke="#303030" stroke-width="0.25" transform="translate(694.26 470.20) rotate(-45) translate(0 4.8)">2004</text>
<text x="0" y="0" font-size="13.6" text-anchor="middle" fill="#303030" stroke="#303030" stroke-width="0.25" transform="translate(708.87 470.20) rotate(-45) translate(0 4.8)">2005</text>
<text x="0" y="0" font-size="13.6" text-anchor="middle" fill="#303030" stroke="#303030" stroke-width="0.25" transform="translate(723.44 470.20) rotate(-45) translate(0 4.8)">2006</text>
<text x="0" y="0" font-size="13.6" text-anchor="middle" fill="#303030" stroke="#303030" stroke-width="0.25" transform="translate(738.00 470.20) rotate(-45) translate(0 4.8)">2007</text>
<text x="0" y="0" font-size="13.6" text-anchor="middle" fill="#303030" stroke="#303030" stroke-width="0.25" transform="translate(752.57 470.20) rotate(-45) translate(0 4.8)">2008</text>
<text x="0" y="0" font-size="13.6" text-anchor="middle" fill="#303030" stroke="#303030" stroke-width="0.25" transform="translate(767.17 470.20) rotate(-45) translate(0 4.8)">2009</text>
<text x="0" y="0" font-size="13.6" text-anchor="middle" fill="#303030" stroke="#303030" stroke-width="0.25" transform="translate(781.74 470.20) rotate(-45) translate(0 4.8)">2010</text>
<text x="0" y="0" font-size="13.6" text-anchor="middle" fill="#303030" stroke="#303030" stroke-width="0.25" transform="translate(796.31 470.20) rotate(-45) translate(0 4.8)">2011</text>
<text x="0" y="0" font-size="13.6" text-anchor="middle" fill="#303030" stroke="#303030" stroke-width="0.25" transform="translate(810.87 470.20) rotate(-45) translate(0 4.8)">2012</text>
<text x="0" y="0" font-size="13.6" text-anchor="middle" fill="#303030" stroke="#303030" stroke-width="0.25" transform="translate(825.48 470.20) rotate(-45) translate(0 4.8)">2013</text>
<text x="0" y="0" font-size="13.6" text-anchor="middle" fill="#303030" stroke="#303030" stroke-width="0.25" transform="translate(840.05 470.20) rotate(-45) translate(0 4.8)">2014</text>
<text x="0" y="0" font-size="13.6" text-anchor="middle" fill="#303030" stroke="#303030" stroke-width="0.25" transform="translate(854.61 470.20) rotate(-45) translate(0 4.8)">2015</text>
<text x="0" y="0" font-size="13.6" text-anchor="middle" fill="#303030" stroke="#303030" stroke-width="0.25" transform="translate(869.18 470.20) rotate(-45) translate(0 4.8)">2016</text>
<text x="0" y="0" font-size="13.6" text-anchor="middle" fill="#303030" stroke="#303030" stroke-width="0.25" transform="translate(883.79 470.20) rotate(-45) translate(0 4.8)">2017</text>
<text x="0" y="0" font-size="13.6" text-anchor="middle" fill="#303030" stroke="#303030" stroke-width="0.25" transform="translate(898.35 470.20) rotate(-45) translate(0 4.8)">2018</text>
<text x="0" y="0" font-size="13.6" text-anchor="middle" fill="#303030" stroke="#303030" stroke-width="0.25" transform="translate(912.92 470.20) rotate(-45) translate(0 4.8)">2019</text>
<text x="0" y="0" font-size="13.6" text-anchor="middle" fill="#303030" stroke="#303030" stroke-width="0.25" transform="translate(927.49 470.20) rotate(-45) translate(0 4.8)">2020</text>
<text x="0" y="0" font-size="13.6" text-anchor="middle" fill="#303030" stroke="#303030" stroke-width="0.25" transform="translate(942.09 470.20) rotate(-45) translate(0 4.8)">2021</text>
<text x="0" y="0" font-size="13.6" text-anchor="middle" fill="#303030" stroke="#303030" stroke-width="0.25" transform="translate(956.66 470.20) rotate(-45) translate(0 4.8)">2022</text>
<text x="0" y="0" font-size="13.6" text-anchor="middle" fill="#303030" stroke="#303030" stroke-width="0.25" transform="translate(971.23 470.20) rotate(-45) translate(0 4.8)">2023</text>
<text x="0" y="0" font-size="13.6" text-anchor="middle" fill="#303030" stroke="#303030" stroke-width="0.25" transform="translate(985.79 470.20) rotate(-45) translate(0 4.8)">2024</text>
<text x="0" y="0" font-size="13.6" text-anchor="middle" fill="#303030" stroke="#303030" stroke-width="0.25" transform="translate(1000.40 470.20) rotate(-45) translate(0 4.8)">2025</text>
<text x="531.30" y="502.30" font-size="16.40" font-weight="bold" text-anchor="middle" fill="#000" textLength="44.0" lengthAdjust="spacingAndGlyphs" stroke="#000" stroke-width="0.30">Date</text>
<text x="0" y="0" font-size="19.0" font-weight="bold" text-anchor="middle" stroke="#000" stroke-width="0.3" textLength="62.0" lengthAdjust="spacingAndGlyphs" transform="translate(23.00 238.70) rotate(-90)">Weeks</text>
</svg></body></html>
